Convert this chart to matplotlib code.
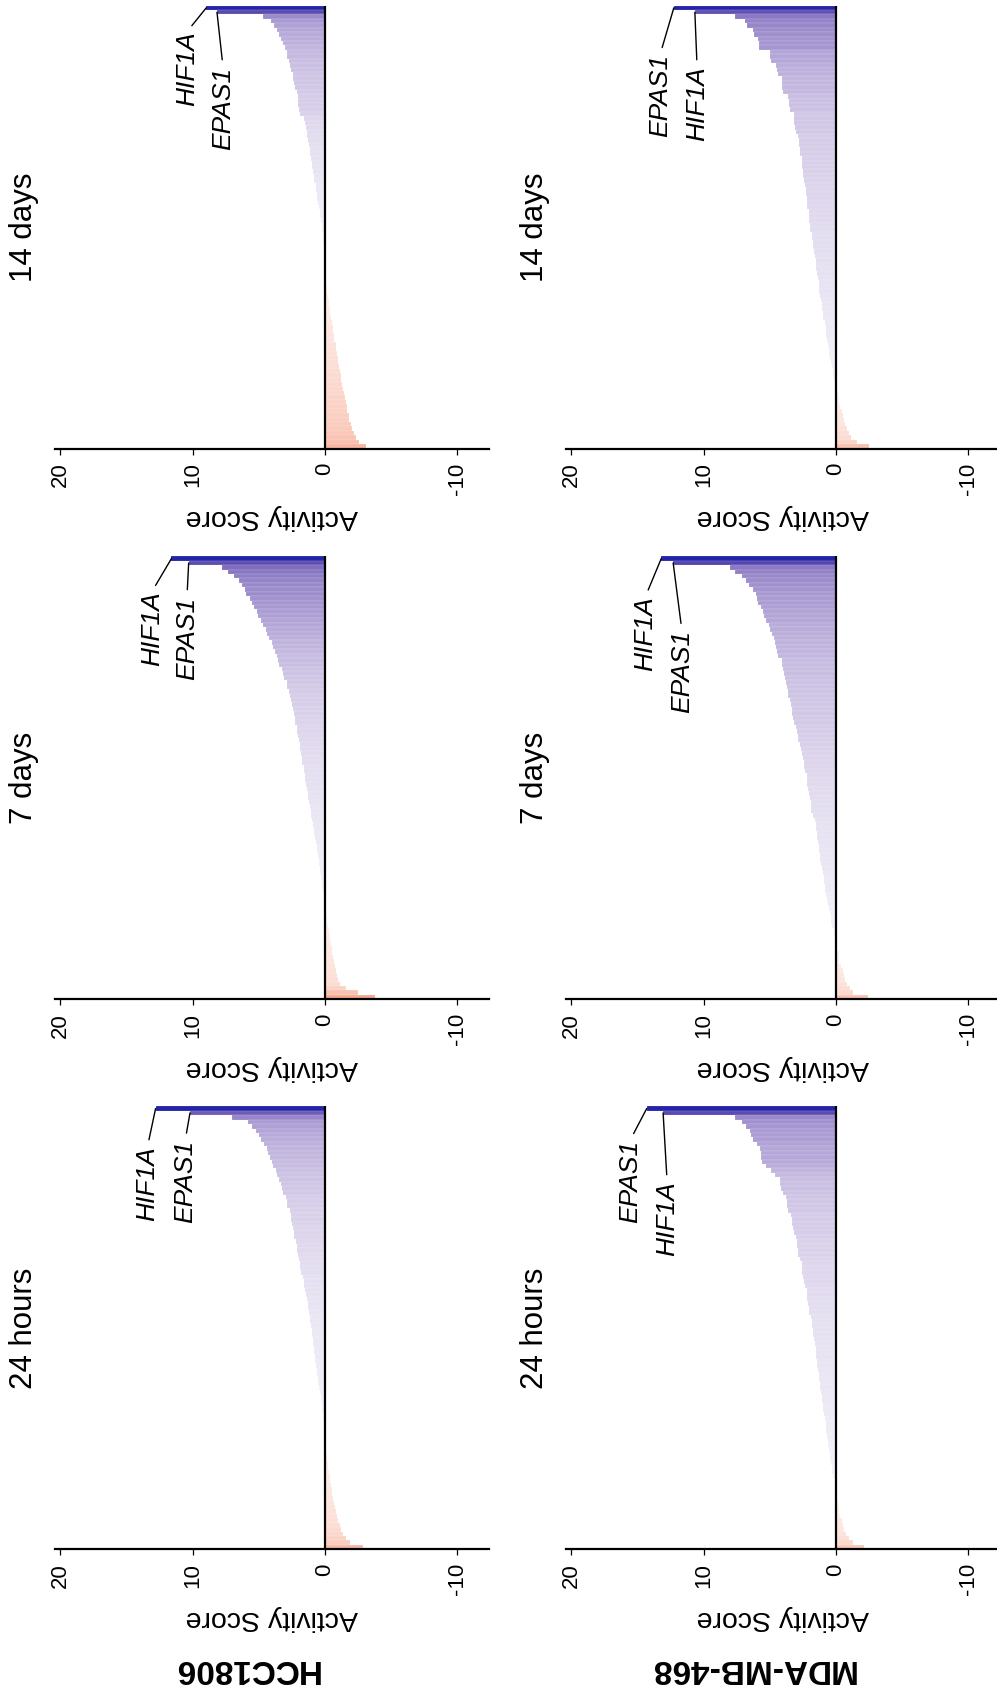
import numpy as np
import matplotlib; matplotlib.use("Agg")
import matplotlib.pyplot as plt
from matplotlib.colors import LinearSegmentedColormap

plt.rcParams['font.family'] = ['Liberation Sans', 'DejaVu Sans']
plt.rcParams['axes.unicode_minus'] = False

cell_lines = ['HCC1806', 'MDA-MB-468']
timepoints = ['24 hours', '7 days', '14 days']

# sorted activity scores (rank 0 = top bar)
hcc_24h = [12.8, 10.2, 7.0, 5.8, 5.5, 5.2, 5.0, 4.8, 4.6, 4.4,
           4.3, 4.15, 4.0, 3.95, 3.7, 3.6, 3.5, 3.35, 3.25, 3.2,
           2.95, 2.9, 2.85, 2.65, 2.6, 2.6, 2.5, 2.4, 2.35, 2.35,
           2.2, 2.1, 2.1, 2.0, 1.95, 1.9, 1.85, 1.8, 1.65, 1.6,
           1.55, 1.5, 1.45, 1.38, 1.3, 1.25, 1.2, 1.15, 1.1, 1.05,
           1.0, 0.98, 0.92, 0.9, 0.85, 0.82, 0.78, 0.73, 0.68, 0.63,
           0.58, 0.55, 0.5, 0.45, 0.4, 0.33, 0.3, 0.25, 0.2, 0.15,
           0.12, 0.1, 0.07, 0.05, 0.03, 0.02, 0.01, -0.05, -0.12, -0.17,
           -0.2, -0.25, -0.3, -0.35, -0.4, -0.45, -0.52, -0.56, -0.6, -0.65,
           -0.75, -0.8, -0.88, -0.95, -1.1, -1.2, -1.4, -1.6, -1.9, -2.9]
hcc_7d = [11.6, 10.3, 7.8, 7.3, 6.85, 6.5, 6.25, 6.05, 6.0, 5.7,
          5.5, 5.4, 5.15, 5.05, 4.8, 4.7, 4.45, 4.35, 4.2, 4.0,
          3.95, 3.8, 3.62, 3.55, 3.45, 3.25, 3.2, 3.1, 2.9, 2.85,
          2.75, 2.62, 2.6, 2.5, 2.4, 2.37, 2.3, 2.25, 2.12, 2.1,
          2.0, 1.95, 1.88, 1.85, 1.8, 1.75, 1.7, 1.62, 1.58, 1.52,
          1.5, 1.42, 1.36, 1.3, 1.25, 1.2, 1.12, 1.08, 1.02, 0.98,
          0.9, 0.86, 0.8, 0.75, 0.7, 0.62, 0.58, 0.52, 0.48, 0.42,
          0.38, 0.34, 0.3, 0.25, 0.2, 0.16, 0.1, 0.06, 0.03, 0.01,
          -0.03, -0.12, -0.17, -0.22, -0.3, -0.35, -0.4, -0.45, -0.5, -0.55,
          -0.62, -0.68, -0.76, -0.8, -0.9, -1.0, -1.15, -1.6, -2.5, -3.8]
hcc_14d = [8.97, 8.16, 4.7, 4.1, 3.85, 3.6, 3.45, 3.3, 3.2, 3.0,
           2.9, 2.85, 2.7, 2.65, 2.6, 2.45, 2.4, 2.35, 2.3, 2.15,
           2.05, 2.0, 2.0, 1.95, 1.85, 1.55, 1.5, 1.45, 1.38, 1.35,
           1.3, 1.2, 1.12, 1.1, 1.05, 1.0, 0.95, 0.88, 0.85, 0.8,
           0.7, 0.65, 0.6, 0.58, 0.52, 0.45, 0.38, 0.35, 0.3, 0.25,
           0.2, 0.17, 0.15, 0.12, 0.1, 0.07, 0.05, 0.03, 0.02, 0.01,
           0.0, -0.03, -0.1, -0.15, -0.18, -0.22, -0.27, -0.33, -0.36, -0.4,
           -0.45, -0.52, -0.6, -0.62, -0.67, -0.72, -0.8, -0.86, -0.9, -0.95,
           -1.0, -1.05, -1.1, -1.2, -1.25, -1.3, -1.38, -1.45, -1.55, -1.6,
           -1.65, -1.7, -1.8, -1.85, -1.95, -2.05, -2.2, -2.35, -2.6, -3.1]
mda_24h = [14.3, 13.06, 7.6, 7.1, 6.8, 6.5, 6.4, 6.3, 6.0, 5.75,
           5.7, 5.65, 5.6, 5.3, 4.9, 4.6, 4.25, 4.2, 4.15, 4.0,
           3.75, 3.7, 3.7, 3.6, 3.4, 3.32, 3.3, 3.25, 3.2, 3.05,
           2.95, 2.94, 2.9, 2.85, 2.7, 2.58, 2.56, 2.55, 2.5, 2.45,
           2.3, 2.2, 2.18, 2.15, 2.1, 2.05, 2.0, 1.85, 1.8, 1.78,
           1.75, 1.7, 1.65, 1.55, 1.52, 1.5, 1.48, 1.45, 1.4, 1.32,
           1.29, 1.27, 1.22, 1.18, 1.12, 1.05, 1.02, 0.98, 0.95, 0.9,
           0.82, 0.78, 0.75, 0.72, 0.68, 0.62, 0.58, 0.52, 0.48, 0.45,
           0.4, 0.3, 0.26, 0.22, 0.1, 0.06, 0.03, 0.01, -0.1, -0.18,
           -0.22, -0.25, -0.3, -0.45, -0.55, -0.62, -0.75, -1.0, -1.3, -2.1]
mda_7d = [13.2, 12.3, 8.0, 7.6, 7.1, 6.8, 6.55, 6.3, 6.05, 5.97,
          5.9, 5.7, 5.5, 5.45, 5.3, 5.05, 4.95, 4.85, 4.7, 4.6,
          4.55, 4.45, 4.35, 4.1, 4.08, 4.0, 3.95, 3.85, 3.75, 3.7,
          3.65, 3.6, 3.5, 3.4, 3.32, 3.3, 3.25, 3.15, 3.0, 2.94,
          2.9, 2.85, 2.75, 2.65, 2.56, 2.52, 2.45, 2.4, 2.3, 2.2,
          2.18, 2.15, 2.1, 2.05, 1.98, 1.92, 1.9, 1.85, 1.75, 1.6,
          1.54, 1.5, 1.45, 1.4, 1.35, 1.3, 1.27, 1.22, 1.18, 1.12,
          1.05, 0.95, 0.91, 0.88, 0.85, 0.8, 0.72, 0.66, 0.62, 0.55,
          0.45, 0.4, 0.35, 0.28, 0.18, 0.15, 0.1, 0.04, -0.05, -0.2,
          -0.23, -0.27, -0.35, -0.5, -0.6, -0.65, -0.8, -1.05, -1.3, -2.4]
mda_14d = [12.25, 10.66, 7.6, 6.9, 6.7, 6.3, 6.2, 5.9, 5.85, 5.8,
           5.0, 4.95, 4.9, 4.5, 4.45, 4.4, 4.1, 4.08, 4.05, 4.0,
           3.6, 3.57, 3.55, 3.5, 3.2, 3.19, 3.15, 3.1, 3.05, 2.85,
           2.81, 2.78, 2.75, 2.7, 2.6, 2.56, 2.54, 2.5, 2.48, 2.42,
           2.3, 2.28, 2.25, 2.22, 2.2, 2.15, 2.05, 2.03, 2.0, 1.98,
           1.95, 1.8, 1.78, 1.75, 1.72, 1.68, 1.6, 1.54, 1.52, 1.5,
           1.45, 1.38, 1.29, 1.27, 1.25, 1.2, 1.15, 1.04, 1.02, 1.0,
           0.95, 0.85, 0.78, 0.75, 0.72, 0.68, 0.6, 0.53, 0.5, 0.45,
           0.35, 0.28, 0.25, 0.2, 0.12, 0.08, 0.0, -0.15, -0.23, -0.25,
           -0.3, -0.45, -0.55, -0.6, -0.7, -0.8, -1.0, -1.15, -1.6, -2.5]

scores = {('HCC1806', '24 hours'): hcc_24h, ('HCC1806', '7 days'): hcc_7d,
          ('HCC1806', '14 days'): hcc_14d, ('MDA-MB-468', '24 hours'): mda_24h,
          ('MDA-MB-468', '7 days'): mda_7d, ('MDA-MB-468', '14 days'): mda_14d}
# genes of the two top-ranked bars
top_genes = {('HCC1806', '24 hours'): ['HIF1A', 'EPAS1'], ('HCC1806', '7 days'): ['HIF1A', 'EPAS1'],
             ('HCC1806', '14 days'): ['HIF1A', 'EPAS1'], ('MDA-MB-468', '24 hours'): ['EPAS1', 'HIF1A'],
             ('MDA-MB-468', '7 days'): ['HIF1A', 'EPAS1'], ('MDA-MB-468', '14 days'): ['EPAS1', 'HIF1A']}
# label text anchor (axes fraction) for rank 0 and rank 1
label_pos = {('HCC1806', '24 hours'): [(0.213, 0.909), (0.300, 0.924)],
             ('HCC1806', '7 days'): [(0.223, 0.920), (0.304, 0.909)],
             ('HCC1806', '14 days'): [(0.304, 0.941), (0.387, 0.862)],
             ('MDA-MB-468', '24 hours'): [(0.148, 0.924), (0.233, 0.830)],
             ('MDA-MB-468', '7 days'): [(0.183, 0.909), (0.267, 0.833)],
             ('MDA-MB-468', '14 days'): [(0.217, 0.890), (0.302, 0.862)]}

pos_cmap = LinearSegmentedColormap.from_list('pos', [(0, '#f5f3f9'), (0.15, '#e2dcef'), (0.3, '#c9bee2'),
                                                     (0.5, '#a090ce'), (0.7, '#7a68bc'), (0.9, '#5e4db2'),
                                                     (0.97, '#4a3cae'), (1.0, '#2424a8')])
neg_cmap = LinearSegmentedColormap.from_list('neg', ['#fdf2ee', '#f7a48b'])

fig = plt.figure(figsize=(9.97, 16.94), dpi=100)
lefts = [0.0552, 0.5677]
bottoms = {'24 hours': 0.0854, '7 days': 0.4101, '14 days': 0.7352}
W, H = 0.4353, 0.2615

for c, cl in enumerate(cell_lines):
    for tp in timepoints:
        vals = np.array(scores[(cl, tp)])
        n = len(vals); vmax = vals.max()
        cols = [pos_cmap(v / vmax) if v >= 0 else neg_cmap(min(-v / 4.0, 1)) for v in vals]
        ax = fig.add_axes([lefts[c], bottoms[tp], W, H])
        ax.barh(np.arange(n), vals, height=1.0, color=cols, edgecolor=(1, 1, 1, 0.35), linewidth=0.3)
        ax.axvline(0, color='black', lw=1.6)
        ax.set_xlim(20.4, -12.4); ax.set_ylim(n - 0.5, -0.5)
        ax.set_yticks([]); ax.set_xticks([20, 10, 0, -10])
        ax.tick_params(axis='x', direction='out', length=4, width=0.9, labelsize=16,
                       labelrotation=90, pad=6, colors='black')
        for s in ['left', 'right', 'top']: ax.spines[s].set_visible(False)
        ax.spines['bottom'].set_linewidth(1.6)
        ax.text(0.5, -0.155, 'Activity Score', rotation=180, ha='center', va='center',
                fontsize=20.5, transform=ax.transAxes)
        ax.text(-0.0714, 0.5, tp, rotation=90, ha='center', va='center',
                fontsize=22.5, transform=ax.transAxes)
        for r, (g, (fx, fy)) in enumerate(zip(top_genes[(cl, tp)], label_pos[(cl, tp)])):
            ax.annotate(g, xy=(vals[r], r), xycoords='data', xytext=(fx, fy), textcoords='axes fraction',
                        rotation=90, ha='center', va='top', fontsize=19, style='italic',
                        arrowprops=dict(arrowstyle='-', color='black', lw=1.0, shrinkA=3, shrinkB=0,
                                        relpos=(0.5, 1.0)))

fig.text(246 / 997, 1 - 1668 / 1694, 'HCC1806', rotation=180, fontweight='bold', fontsize=24,
         ha='center', va='center')
fig.text(752 / 997, 1 - 1668 / 1694, 'MDA-MB-468', rotation=180, fontweight='bold', fontsize=24,
         ha='center', va='center')

fig.savefig('out.png', dpi=100)
